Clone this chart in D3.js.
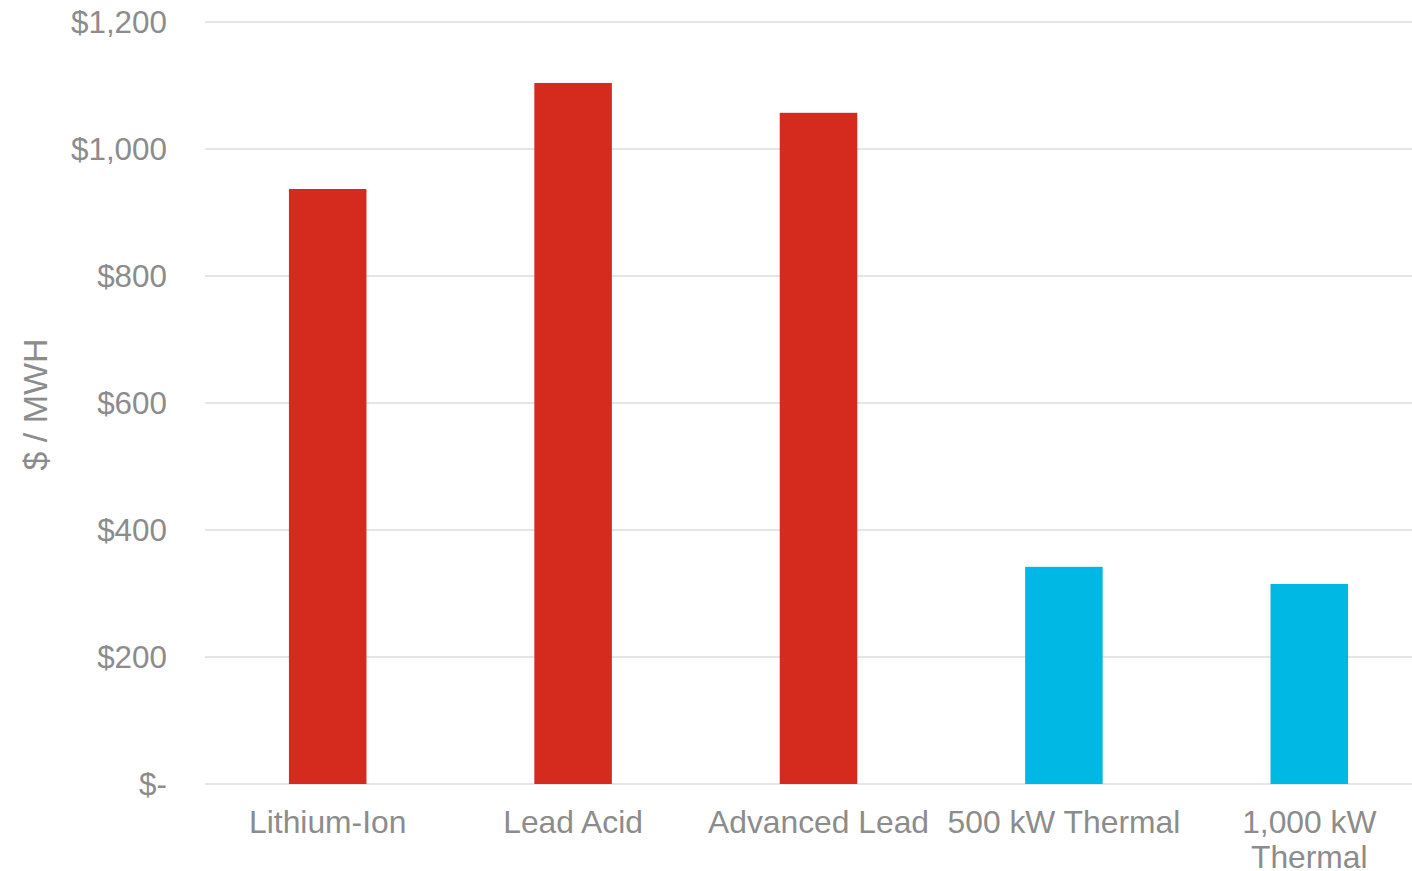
<!DOCTYPE html>
<html>
<head>
<meta charset="utf-8">
<script src="https://cdn.jsdelivr.net/npm/d3@7"></script>
<style>
  html, body { margin: 0; padding: 0; background: #fff; }
  svg { display: block; }
</style>
</head>
<body>
<svg id="chart" width="1412" height="871"></svg>
<script>
const categories = ["Lithium-Ion", "Lead Acid", "Advanced Lead", "500 kW Thermal", "1,000 kW Thermal"];
const categoryLines = [["Lithium-Ion"], ["Lead Acid"], ["Advanced Lead"], ["500 kW Thermal"], ["1,000 kW", "Thermal"]];
const values = [937, 1104, 1057, 342, 315];
const barColors = ["#D52B1E", "#D52B1E", "#D52B1E", "#00B8E4", "#00B8E4"];
const yTicks = [0, 200, 400, 600, 800, 1000, 1200];
const yTickLabels = ["$-", "$200", "$400", "$600", "$800", "$1,000", "$1,200"];
const yTitle = "$ / MWH";

(function () {
const svg = d3.select("#chart");
const W = 1412;
const mLeft = 205, mRight = 1432, mTop = 22, mBottom = 784;
const font = "'Liberation Sans', Arial, sans-serif";
const textColor = "#8C8C8C";

const x = d3.scaleBand().domain(categories).range([mLeft, mRight]).paddingInner(0.684).paddingOuter(0.342);
const y = d3.scaleLinear().domain([0, 1200]).range([mBottom, mTop]);

// gridlines
svg.append("g").selectAll("line").data(yTicks).join("line")
  .attr("x1", mLeft).attr("x2", W)
  .attr("y1", d => y(d)).attr("y2", d => y(d))
  .attr("stroke", "#DDDDDD").attr("stroke-width", 1.5);

// y tick labels
const yAxis = d3.axisLeft(y).tickValues(yTicks).tickSize(0).tickPadding(0)
  .tickFormat((d, i) => yTickLabels[i]);
const gy = svg.append("g").attr("transform", `translate(${167},0)`).call(yAxis);
gy.select(".domain").remove();
gy.selectAll("text").attr("font-family", font).attr("font-size", 31.4).attr("fill", textColor)
  .attr("dy", "0.34em");

// bars
svg.append("g").selectAll("rect").data(categories).join("rect")
  .attr("x", d => x(d))
  .attr("width", x.bandwidth())
  .attr("y", (d, i) => y(values[i]))
  .attr("height", (d, i) => y(0) - y(values[i]))
  .attr("fill", (d, i) => barColors[i]);

// x labels
const gx = svg.append("g");
categories.forEach((c, i) => {
  const cx = x(c) + x.bandwidth() / 2;
  const t = gx.append("text")
    .attr("x", cx)
    .attr("y", 833)
    .attr("text-anchor", "middle")
    .attr("font-family", font).attr("font-size", 31.8).attr("fill", textColor);
  categoryLines[i].forEach((ln, j) => {
    t.append("tspan").attr("x", cx).attr("dy", j === 0 ? 0 : 35).text(ln);
  });
});

// y title
svg.append("text")
  .attr("transform", `translate(47,${404.5}) rotate(-90)`)
  .attr("text-anchor", "middle")
  .attr("font-family", font).attr("font-size", 34).attr("fill", textColor)
  .text(yTitle);
})();
</script>
</body>
</html>
